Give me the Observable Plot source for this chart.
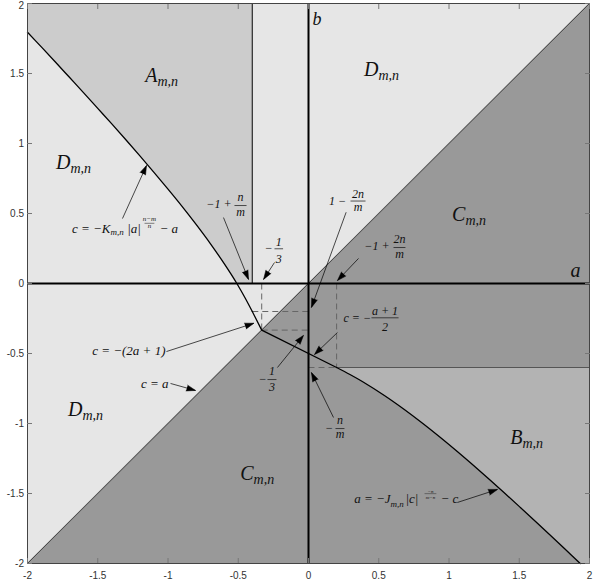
<!DOCTYPE html>
<html><head><meta charset="utf-8">
<script src="https://cdn.jsdelivr.net/npm/d3@7"></script>
<script src="https://cdn.jsdelivr.net/npm/@observablehq/plot@0.6"></script>
<style>body{margin:0;background:#fff}</style>
</head><body><div id="chart"></div>
<script>
// ---- ticks ----
const xTicks = [-2, -1.5, -1, -0.5, 0, 0.5, 1, 1.5, 2];
const yTicks = [-2, -1.5, -1, -0.5, 0, 0.5, 1, 1.5, 2];

// ---- boundary curve c = -K|a|^((n-m)/n) - a ----
const leftA = [-2, -1.9, -1.8, -1.7, -1.6, -1.5, -1.4, -1.3, -1.2, -1.1, -1.0, -0.9, -0.8, -0.7, -0.6, -0.55, -0.51, -0.45, -0.4];
const leftC = [1.795, 1.688, 1.580, 1.471, 1.362, 1.251, 1.140, 1.027, 0.912, 0.794, 0.674, 0.551, 0.422, 0.287, 0.142, 0.065, 0.0, -0.105, -0.2];

// ---- kinked segments c=-(2a+1) and c=-(a+1)/2 ----
const kinkA = [-0.4, -0.333, 0.2];
const kinkC = [-0.2, -0.333, -0.6];

// ---- boundary curve a = -J|c|^(-n/(m-n)) - c ----
const rightC = [-0.6, -0.65, -0.7, -0.8, -0.9, -1.0, -1.1, -1.2, -1.3, -1.4, -1.5, -1.6, -1.7, -1.8, -1.9, -2.0];
const rightA = [0.2, 0.295, 0.383, 0.540, 0.682, 0.814, 0.939, 1.059, 1.175, 1.288, 1.399, 1.508, 1.616, 1.723, 1.829, 1.934];

// ---- diagonal c = a ----
const diagA = [-2, 2];

// ---- key values ----
const vertLineA = -0.4;      // -1 + n/m
const horizLineB = -0.6;     // -n/m
const dashed = [
  {a1: -0.333, b1: 0, a2: -0.333, b2: -0.333},
  {a1: -0.333, b1: -0.333, a2: 0, b2: -0.333},
  {a1: -0.4, b1: -0.2, a2: 0, b2: -0.2},
  {a1: 0.2, b1: 0, a2: 0.2, b2: -0.6},
  {a1: 0, b1: -0.6, a2: 0.2, b2: -0.6}
];

// ---- region labels ----
const regionLabels = [
  {t: "A", a: -1.075, b: 1.436},
  {t: "D", a: 0.498, b: 1.479},
  {t: "D", a: -1.694, b: 0.821},
  {t: "C", a: 1.117, b: 0.443},
  {t: "D", a: -1.609, b: -0.943},
  {t: "C", a: -0.391, b: -1.40},
  {t: "B", a: 1.523, b: -1.143}
];

// ---- annotation text pieces ----
const pieces = [
  // c = -K_{m,n}|a|^{(n-m)/n} - a
  {t: "c = −K", a: -1.409, b: 0.364, anchor: "end", size: 13},
  {t: "m,n", a: -1.409, b: 0.343, anchor: "start", size: 9},
  {t: "|a|", a: -1.290, b: 0.364, anchor: "start", size: 13},
  {t: "n−m", a: -1.132, b: 0.443, anchor: "middle", size: 7},
  {t: "n", a: -1.132, b: 0.396, anchor: "middle", size: 7},
  {t: "− a", a: -1.060, b: 0.364, anchor: "start", size: 13},
  // c = -(2a+1)
  {t: "c = −(2a + 1)", a: -1.018, b: -0.514, anchor: "end", size: 13},
  // c = a
  {t: "c = a", a: -0.996, b: -0.743, anchor: "end", size: 13},
  // -1 + n/m
  {t: "−1 +", a: -0.548, b: 0.536, anchor: "end", size: 12},
  {t: "n", a: -0.484, b: 0.588, anchor: "middle", size: 12},
  {t: "m", a: -0.484, b: 0.479, anchor: "middle", size: 12},
  // -1/3 (upper)
  {t: "−", a: -0.285, b: 0.224, anchor: "middle", size: 12},
  {t: "1", a: -0.2115, b: 0.271, anchor: "middle", size: 12},
  {t: "3", a: -0.2115, b: 0.148, anchor: "middle", size: 12},
  // 1 - 2n/m
  {t: "1 −", a: 0.268, b: 0.564, anchor: "end", size: 12},
  {t: "2n", a: 0.352, b: 0.614, anchor: "middle", size: 12},
  {t: "m", a: 0.352, b: 0.521, anchor: "middle", size: 12},
  // -1 + 2n/m
  {t: "−1 +", a: 0.577, b: 0.236, anchor: "end", size: 12},
  {t: "2n", a: 0.648, b: 0.288, anchor: "middle", size: 12},
  {t: "m", a: 0.648, b: 0.184, anchor: "middle", size: 12},
  // c = -(a+1)/2
  {t: "c = −", a: 0.445, b: -0.275, anchor: "end", size: 12},
  {t: "a + 1", a: 0.545, b: -0.224, anchor: "middle", size: 12},
  {t: "2", a: 0.545, b: -0.336, anchor: "middle", size: 12},
  // -1/3 (lower)
  {t: "−", a: -0.327, b: -0.709, anchor: "middle", size: 12},
  {t: "1", a: -0.260, b: -0.657, anchor: "middle", size: 12},
  {t: "3", a: -0.260, b: -0.768, anchor: "middle", size: 12},
  // -n/m
  {t: "−", a: 0.146, b: -1.059, anchor: "middle", size: 12},
  {t: "n", a: 0.224, b: -1.007, anchor: "middle", size: 12},
  {t: "m", a: 0.224, b: -1.104, anchor: "middle", size: 12},
  // a = -J_{m,n}|c|^{-n/(m-n)} - c
  {t: "a = −J", a: 0.584, b: -1.571, anchor: "end", size: 13},
  {t: "m,n", a: 0.584, b: -1.593, anchor: "start", size: 9},
  {t: "|c|", a: 0.690, b: -1.571, anchor: "start", size: 13},
  {t: "−n", a: 0.868, b: -1.495, anchor: "middle", size: 5},
  {t: "m−n", a: 0.868, b: -1.536, anchor: "middle", size: 5},
  {t: "− c", a: 0.940, b: -1.571, anchor: "start", size: 13}
];

const fracBars = [
  {a1: -1.167, a2: -1.097, b: 0.430, w: 0.5},
  {a1: -0.527, a2: -0.441, b: 0.557, w: 0.7},
  {a1: -0.242, a2: -0.181, b: 0.248, w: 0.7},
  {a1: 0.299, a2: 0.406, b: 0.589, w: 0.7},
  {a1: 0.605, a2: 0.690, b: 0.257, w: 0.7},
  {a1: 0.448, a2: 0.641, b: -0.245, w: 0.7},
  {a1: -0.292, a2: -0.228, b: -0.686, w: 0.7},
  {a1: 0.192, a2: 0.256, b: -1.036, w: 0.7},
  {a1: 0.826, a2: 0.910, b: -1.501, w: 0.4}
];

const arrows = [
  {a1: -1.324, b1: 0.464, a2: -1.153, b2: 0.843},
  {a1: -1.011, b1: -0.486, a2: -0.389, b2: -0.284},
  {a1: -0.982, b1: -0.714, a2: -0.804, b2: -0.764},
  {a1: -0.605, b1: 0.471, a2: -0.427, b2: 0.029},
  {a1: -0.242, b1: 0.150, a2: -0.320, b2: 0.029},
  {a1: 0.268, b1: 0.509, a2: 0.021, b2: -0.171},
  {a1: 0.356, b1: 0.179, a2: 0.206, b2: 0.021},
  {a1: 0.206, b1: -0.350, a2: 0.043, b2: -0.507},
  {a1: -0.221, b1: -0.600, a2: -0.036, b2: -0.371},
  {a1: 0.178, b1: -0.957, a2: 0.021, b2: -0.636},
  {a1: 1.060, b1: -1.564, a2: 1.345, b2: -1.471}
];

const axisLetters = [
  {t: "b", a: 0.028, b: 1.85, size: 18},
  {t: "a", a: 1.865, b: 0.05, size: 20}
];

// ---- derived tables ----
const leftPts = leftA.map((a, i) => ({a, c: leftC[i]}));
const kinkPts = kinkA.map((a, i) => ({a, c: kinkC[i]}));
const rightPts = rightA.map((a, i) => ({a, c: rightC[i]}));
const aLower = leftPts.filter(d => d.c >= 0).concat([{a: vertLineA, c: 0}]);
const topY = yTicks[yTicks.length - 1];

const serif = "Liberation Serif, Times New Roman, serif";
const textMarks = ["start", "middle", "end"].map(anchor =>
  Plot.text(pieces.filter(d => d.anchor === anchor), {
    x: "a", y: "b", text: "t", textAnchor: anchor, lineAnchor: "bottom",
    fontSize: "size", fontFamily: serif, fontStyle: "italic", fill: "#111"
  })
);

const fmt = d => String(d);

const chart = Plot.plot({
  width: 597,
  height: 582,
  marginLeft: 27,
  marginRight: 8,
  marginTop: 3,
  marginBottom: 19,
  style: {fontFamily: "Liberation Sans, Arial, sans-serif", fontSize: "10px", color: "#333", background: "#fff"},
  x: {domain: [-2, 2], label: null},
  y: {domain: [-2, 2], label: null},
  marks: [
    Plot.frame({fill: "#e6e6e6", stroke: "none"}),
    Plot.areaY(aLower, {x: "a", y1: "c", y2: 2, fill: "#cccccc"}),
    Plot.areaY(diagA, {x: d => d, y1: -2, y2: d => d, fill: "#999999"}),
    Plot.areaX(rightPts, {y: "c", x1: "a", x2: 2, fill: "#b3b3b3"}),
    Plot.link(dashed, {x1: "a1", y1: "b1", x2: "a2", y2: "b2", stroke: "#666", strokeWidth: 1, strokeDasharray: "6,4"}),
    Plot.ruleY([horizLineB], {x1: 0.2, x2: 2, stroke: "#555", strokeWidth: 1}),
    Plot.line(diagA.map(a => ({a})), {x: "a", y: "a", stroke: "#333", strokeWidth: 0.8}),
    Plot.ruleX([vertLineA], {y1: 0, y2: 2, stroke: "#333", strokeWidth: 1.3}),
    Plot.ruleX([0], {stroke: "#000", strokeWidth: 2}),
    Plot.ruleY([0], {stroke: "#000", strokeWidth: 2}),
    Plot.line(leftPts, {x: "a", y: "c", stroke: "#000", strokeWidth: 1.3, curve: "catmull-rom"}),
    Plot.line(kinkPts, {x: "a", y: "c", stroke: "#000", strokeWidth: 1.3}),
    Plot.line(rightPts, {x: "a", y: "c", stroke: "#000", strokeWidth: 1.3, curve: "catmull-rom"}),
    // arrows
    Plot.link(arrows, {x1: "a1", y1: "b1", x2: "a2", y2: "b2", stroke: "#000", strokeWidth: 0.7}),
    Plot.vector(arrows, {
      x: "a2", y: "b2", anchor: "end", shape: "spike", length: 9, r: 3,
      rotate: d => Math.atan2(d.a2 - d.a1, d.b2 - d.b1) * 180 / Math.PI,
      fill: "#000", stroke: "#000", strokeWidth: 0.5
    }),
    // fraction bars
    Plot.link(fracBars, {x1: "a1", x2: "a2", y1: "b", y2: "b", stroke: "#111", strokeWidth: "w"}),
    ...textMarks,
    // region labels
    Plot.text(regionLabels, {x: "a", y: "b", text: "t", textAnchor: "end", lineAnchor: "bottom", fontSize: 20, fontFamily: serif, fontStyle: "italic", fill: "#111"}),
    Plot.text(regionLabels, {x: "a", y: "b", text: () => "m,n", textAnchor: "start", lineAnchor: "bottom", dy: 4, fontSize: 14, fontFamily: serif, fontStyle: "italic", fill: "#111"}),
    Plot.text(axisLetters, {x: "a", y: "b", text: "t", textAnchor: "start", lineAnchor: "bottom", fontSize: "size", fontFamily: serif, fontStyle: "italic", fill: "#111"}),
    // frame and axes
    Plot.frame({stroke: "#444", strokeWidth: 1}),
    Plot.axisX(xTicks, {anchor: "bottom", tickSize: -5, tickPadding: 13, tickFormat: fmt, stroke: "#777", label: null}),
    Plot.axisX(xTicks, {anchor: "top", tickSize: -5, tickFormat: () => "", stroke: "#777", label: null}),
    Plot.axisY(yTicks, {anchor: "left", tickSize: -5, tickPadding: 8.5, tickFormat: d => d === topY ? "" : fmt(d), stroke: "#777", label: null}),
    Plot.text([topY], {frameAnchor: "left", y: d => d, text: fmt, textAnchor: "end", lineAnchor: "top", dx: -3.5, dy: -2, fill: "#333"}),
    Plot.axisY(yTicks, {anchor: "right", tickSize: -5, tickFormat: () => "", stroke: "#777", label: null})
  ]
});
document.getElementById("chart").appendChild(chart);
</script>
</body></html>
